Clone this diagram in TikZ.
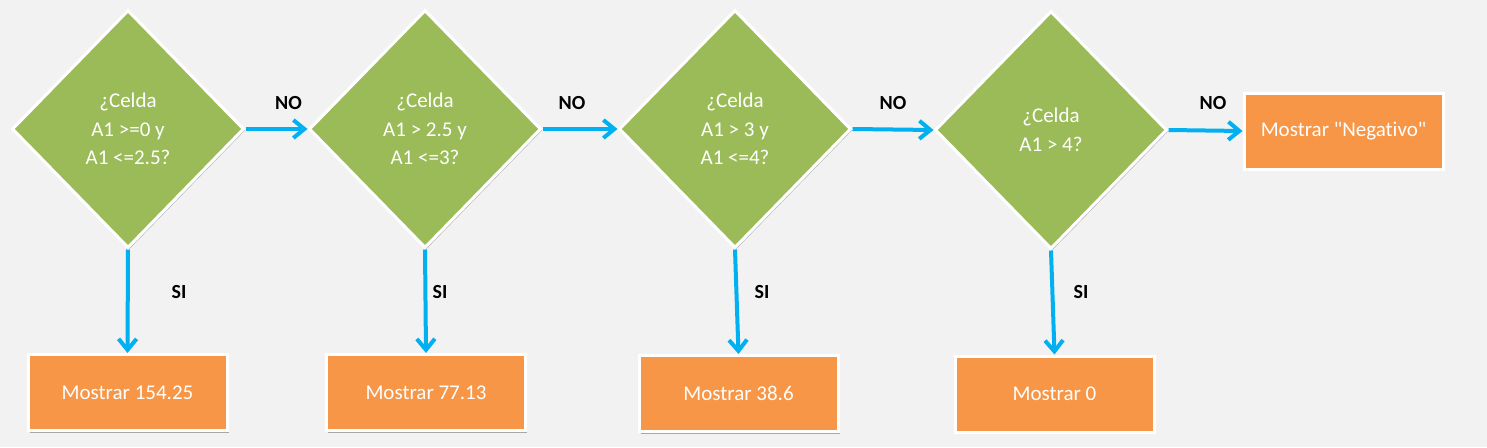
\documentclass[tikz,border=0pt]{standalone}
\usepackage{fontspec}
\setmainfont{Carlito}[Ligatures={TeXOff,NoCommon}]
\usetikzlibrary{shapes.geometric,arrows.meta,shadows}
\definecolor{bgc}{HTML}{F2F2F2}
\definecolor{dgreen}{HTML}{9BBB59}
\definecolor{borange}{HTML}{F79646}
\definecolor{acyan}{HTML}{00B0F0}
\begin{document}
\begin{tikzpicture}[x=1pt,y=-1pt,
  decision/.style={diamond,fill=dgreen,draw=white,line width=3pt,inner sep=0pt,
    minimum width=232pt,minimum height=238pt,text=white,align=center,
    font=\fontsize{21}{28.5}\selectfont,
    drop shadow={shadow xshift=1.5pt,shadow yshift=-1.5pt,opacity=0.25,fill=black}},
  action/.style={rectangle,fill=borange,draw=white,line width=3pt,inner sep=0pt,
    minimum width=199pt,minimum height=76pt,text=white,
    font=\fontsize{21}{25}\selectfont,
    drop shadow={shadow xshift=1.5pt,shadow yshift=-2pt,opacity=0.3,fill=black}},
  flow/.style={draw=acyan,line width=4pt,-{Straight Barb[length=11pt,width=18pt]}},
  lbl/.style={font=\bfseries\fontsize{20}{24}\selectfont,text=black,inner sep=0pt}]
\fill[bgc] (0,0) rectangle (1487,447);
\useasboundingbox (0,0) rectangle (1487,447);

\node[decision] (d1) at (128,129) {¿Celda\\A1 >=0 y\\A1 <=2.5?};
\node[decision] (d2) at (425,129) {¿Celda\\A1 > 2.5 y\\A1 <=3?};
\node[decision] (d3) at (735,129) {¿Celda\\A1 > 3 y\\A1 <=4?};
\node[decision] (d4) at (1051,130) {¿Celda\\A1 > 4?};

\node[action] (b1) at (127.5,392.5) {Mostrar 154.25};
\node[action] (b2) at (426,392.5) {Mostrar 77.13};
\node[action] (b3) at (738.5,393.5) {Mostrar 38.6};
\node[action] (b4) at (1054.5,394) {Mostrar 0};
\node[action] (b5) at (1343.5,131) {Mostrar "Negativo"};

\draw[flow] (d1.east) -- (d2.west);
\draw[flow] (d2.east) -- (d3.west);
\draw[flow] (d3.east) -- (d4.west);
\draw[flow] (d4.east) -- (b5.west);

\draw[flow] (d1.south) -- (b1.north);
\draw[flow] (d2.south) -- (b2.north);
\draw[flow] (d3.south) -- (b3.north);
\draw[flow] (d4.south) -- (b4.north);

\node[lbl] (n1) at (288.5,103) {NO};
\node[lbl] (n2) at (572,103) {NO};
\node[lbl] (n3) at (893,103) {NO};
\node[lbl] (n4) at (1213,103) {NO};

\node[lbl] (s1) at (179,292) {SI};
\node[lbl] (s2) at (440,292) {SI};
\node[lbl] (s3) at (762,292) {SI};
\node[lbl] (s4) at (1081,292) {SI};
\end{tikzpicture}
\end{document}
